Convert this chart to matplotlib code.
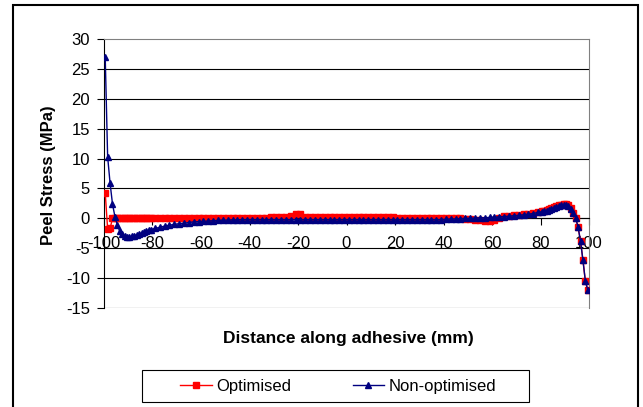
import matplotlib
matplotlib.use('Agg')
import matplotlib.pyplot as plt
from matplotlib.patches import Rectangle

plt.rcParams['font.family'] = ['Liberation Sans', 'DejaVu Sans']
plt.rcParams['axes.unicode_minus'] = False

# sample positions along the adhesive (mm)
dist = [
    -99.5, -98.5, -97.5, -96.5, -95.5, -94.5, -93.5, -92.5, -91.5, -90.5,
    -89.5, -88.5, -87.5, -86.5, -85.5, -84.5, -83.5, -82.5, -81.5, -80.5,
    -79, -77, -75, -73, -71, -69, -67, -65, -63, -61,
    -59, -57, -55, -53, -51, -49, -47, -45, -43, -41,
    -39, -37, -35, -33, -31, -29, -27, -25, -23, -21,
    -19, -17, -15, -13, -11, -9, -7, -5, -3, -1,
    1, 3, 5, 7, 9, 11, 13, 15, 17, 19,
    21, 23, 25, 27, 29, 31, 33, 35, 37, 39,
    41, 43, 45, 47, 49, 51, 53, 55, 57, 59,
    61, 63, 65, 67, 69, 71, 73, 75, 77, 79,
    80.5, 81.5, 82.5, 83.5, 84.5, 85.5, 86.5, 87.5, 88.5, 89.5,
    90.5, 91.5, 92.5, 93.5, 94.5, 95.5, 96.5, 97.5, 98.5, 99.5,
]

optimised = [
    4.3, -1.8, -1.7, 0.0, 0.0, 0.0, 0.0, 0.0, 0.0, 0.0,
    0.0, 0.0, 0.0, 0.0, 0.0, 0.0, 0.0, 0.0, 0.0, 0.0,
    0.0, 0.0, 0.0, 0.0, 0.0, 0.0, 0.0, 0.0, 0.0, 0.0,
    0.0, 0.0, 0.0, 0.0, 0.0, 0.0, 0.0, 0.0, 0.0, 0.0,
    0.0, 0.0, 0.0, 0.1, 0.25, 0.25, 0.25, 0.25, 0.45, 0.7,
    0.65, 0.3, 0.25, 0.25, 0.25, 0.25, 0.25, 0.25, 0.25, 0.25,
    0.25, 0.25, 0.25, 0.25, 0.25, 0.25, 0.25, 0.25, 0.25, 0.25,
    0.1, 0.0, 0.0, 0.0, 0.0, 0.0, 0.0, 0.0, 0.0, 0.0,
    0.0, 0.0, 0.0, 0.0, -0.05, -0.1, -0.2, -0.35, -0.4, -0.4,
    -0.3, 0.1, 0.35, 0.45, 0.55, 0.6, 0.7, 0.8, 0.9, 1.1,
    1.2, 1.3, 1.4, 1.55, 1.7, 1.85, 2.0, 2.15, 2.3, 2.4,
    2.4, 2.15, 1.65, 0.9, 0.1, -1.5, -3.8, -7.0, -10.5, -12.0,
]

non_optimised = [
    27.0, 10.3, 5.9, 2.4, 0.3, -1.1, -2.2, -2.7, -3.0, -3.1,
    -3.1, -3.0, -2.9, -2.8, -2.6, -2.5, -2.3, -2.2, -2.0, -1.9,
    -1.7, -1.5, -1.3, -1.15, -1.0, -0.9, -0.8, -0.7, -0.6, -0.55,
    -0.5, -0.45, -0.4, -0.35, -0.3, -0.3, -0.25, -0.25, -0.2, -0.2,
    -0.2, -0.2, -0.2, -0.2, -0.2, -0.2, -0.2, -0.2, -0.2, -0.2,
    -0.2, -0.2, -0.2, -0.2, -0.2, -0.2, -0.2, -0.2, -0.2, -0.2,
    -0.2, -0.2, -0.2, -0.2, -0.2, -0.2, -0.2, -0.2, -0.2, -0.2,
    -0.2, -0.2, -0.2, -0.2, -0.2, -0.2, -0.2, -0.2, -0.2, -0.2,
    -0.15, -0.1, -0.1, -0.05, 0.0, 0.0, 0.05, 0.1, 0.1, 0.15,
    0.2, 0.25, 0.3, 0.35, 0.45, 0.5, 0.6, 0.7, 0.8, 1.0,
    1.1, 1.2, 1.3, 1.45, 1.6, 1.75, 1.9, 2.05, 2.2, 2.3,
    2.3, 2.1, 1.6, 0.9, 0.1, -1.5, -3.8, -7.0, -10.5, -12.0,
]

x_ticks = [-100, -80, -60, -40, -20, 0, 20, 40, 60, 80, 100]
y_ticks = [-15, -10, -5, 0, 5, 10, 15, 20, 25, 30]

fig = plt.figure(figsize=(6.43, 4.07), dpi=100)
ax = fig.add_axes([104 / 643, 99 / 407, 485 / 643, 269 / 407])

# horizontal gridlines (the top one is the grey plot border)
for yv in y_ticks[:-1]:
    ax.axhline(yv, color='black', lw=0.8, zorder=1)

ax.plot(dist, optimised, color='#ff0000', lw=1.0, marker='s', ms=3.8,
        label='Optimised', zorder=3)
ax.plot(dist, non_optimised, color='#000080', lw=1.0, marker='^', ms=4.8,
        label='Non-optimised', zorder=4)

ax.set_xlim(-100, 100)
ax.set_ylim(-15, 30)
ax.set_xticks(x_ticks)
ax.set_yticks(y_ticks)
ax.set_axisbelow(True)

ax.spines['bottom'].set_position(('data', 0))
ax.spines['bottom'].set_color('black')
ax.spines['left'].set_color('black')
ax.spines['top'].set_color('#808080')
ax.spines['right'].set_color('#808080')
for s in ax.spines.values():
    s.set_linewidth(0.8)

ax.tick_params(axis='both', direction='out', length=5, width=0.8,
               labelsize=12, colors='black')
ax.tick_params(axis='x', pad=8)
ax.tick_params(axis='y', pad=5)

fig.text(348 / 643, 1 - 339 / 407, 'Distance along adhesive (mm)',
         ha='center', va='center', fontsize=12.5, fontweight='bold')
fig.text(48.5 / 643, 1 - 175.5 / 407, 'Peel Stress (MPa)', rotation=90,
         ha='center', va='center', fontsize=12, fontweight='bold')

handles, labels = ax.get_legend_handles_labels()
fig.legend(handles, labels, loc='center', ncol=2, frameon=False,
           bbox_to_anchor=(338 / 643, 1 - 386 / 407), fontsize=12,
           handlelength=1.9, handletextpad=0.25, columnspacing=3.7)
fig.add_artist(Rectangle((142 / 643, 5 / 407), 387 / 643, 32 / 407,
                         transform=fig.transFigure, fill=False,
                         edgecolor='black', lw=0.8))

# outer chart border
fig.add_artist(Rectangle((13 / 643, -0.02), 625 / 643, 1.02 - 5 / 407,
                         transform=fig.transFigure, fill=False,
                         edgecolor='black', lw=1.5))

fig.savefig('out.png', dpi=100)
